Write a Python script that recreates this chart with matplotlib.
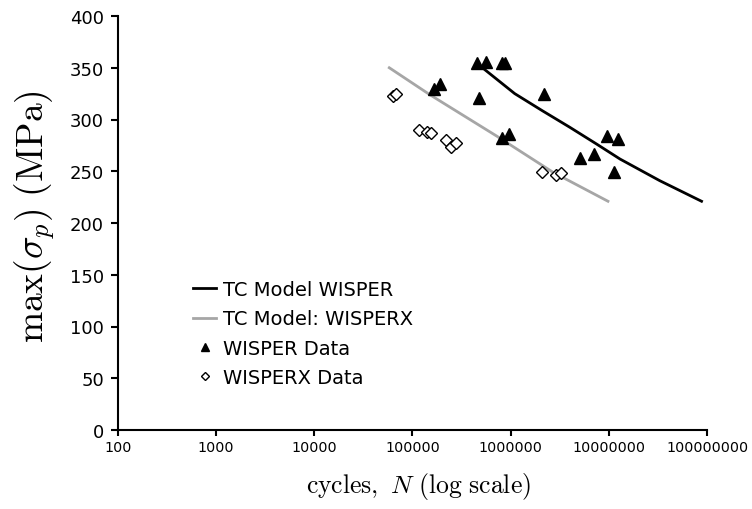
import matplotlib
matplotlib.use('Agg')
import matplotlib.pyplot as plt
from matplotlib.ticker import FixedLocator, FuncFormatter

plt.rcParams['mathtext.fontset'] = 'cm'
plt.rcParams['font.family'] = 'DejaVu Sans'

# model curves (cycles, peak stress MPa)
wisper_model_n = [5.0e5, 1.1e6, 2.1e6, 4.0e6, 7.5e6, 1.3e7, 3.3e7, 8.8e7]
wisper_model_s = [351, 325, 308.5, 292.5, 276.3, 261.8, 240.9, 221]
wisperx_model_n = [5.8e4, 1.5e5, 7.2e5, 2.7e6, 9.8e6]
wisperx_model_s = [350, 324, 284, 249, 221]

# test data
wisper_n = [4.56e5, 5.59e5, 8.1e5, 8.7e5, 1.65e5, 1.9e5, 4.8e5, 2.19e6,
            8.07e5, 9.66e5, 9.6e6, 1.23e7, 5.07e6, 7.03e6, 1.14e7]
wisper_s = [354.6, 356, 355, 355, 329.5, 334, 321, 324.6,
            282, 286, 284, 281, 262.8, 266.7, 249]
wisperx_n = [6.37e4, 6.73e4, 1.17e5, 1.42e5, 1.56e5, 2.17e5, 2.44e5, 2.75e5,
             2.09e6, 2.88e6, 3.24e6]
wisperx_s = [323, 324.6, 290, 287.6, 287, 280.5, 273, 277,
             249.6, 246.7, 248]

x_ticks = [1e2, 1e3, 1e4, 1e5, 1e6, 1e7, 1e8]
y_ticks = [0, 50, 100, 150, 200, 250, 300, 350, 400]

fig = plt.figure(figsize=(7.52, 5.10), dpi=100)
ax = fig.add_axes([118 / 752, 1 - 431 / 510, (707 - 118) / 752, (431 - 17) / 510])

ax.plot(wisper_model_n, wisper_model_s, color='black', lw=2, label='TC Model WISPER')
ax.plot(wisperx_model_n, wisperx_model_s, color='#a6a6a6', lw=2, label='TC Model: WISPERX')
ax.plot(wisper_n, wisper_s, linestyle='', marker='^', color='black', markersize=9,
        label='WISPER Data')
ax.plot(wisperx_n, wisperx_s, linestyle='', marker='D', markerfacecolor='white',
        markeredgecolor='black', markeredgewidth=1, markersize=6.5, label='WISPERX Data')

ax.set_xscale('log')
ax.set_xlim(1e2, 1e8)
ax.set_ylim(0, 400)
ax.xaxis.set_major_locator(FixedLocator(x_ticks))
ax.xaxis.set_minor_locator(FixedLocator([]))
ax.xaxis.set_major_formatter(FuncFormatter(lambda v, p: '%d' % round(v)))
ax.set_yticks(y_ticks)

for s in ['top', 'right']:
    ax.spines[s].set_visible(False)
for s in ['left', 'bottom']:
    ax.spines[s].set_linewidth(1.5)
ax.tick_params(axis='x', direction='out', length=4, width=1.5, labelsize=10.3, pad=3)
ax.tick_params(axis='y', direction='out', length=5, width=1.5, labelsize=13, pad=5)

fig.text(35 / 752, 1 - 217 / 510, r'$\mathrm{max}(\sigma_p)\ \mathrm{(MPa)}$',
         rotation=90, ha='center', va='center', fontsize=27)
fig.text(418 / 752, 1 - 487 / 510, r'$\mathrm{cycles,}\ N\ \mathrm{(log\ scale)}$',
         ha='center', va='center', fontsize=18.5)

ax.legend(loc='upper left', bbox_to_anchor=(193 / 752, 1 - 281 / 510),
          bbox_transform=fig.transFigure, frameon=False, fontsize=14,
          handlelength=1.2, handletextpad=0.36, labelspacing=0.53, markerscale=0.6,
          borderaxespad=0, borderpad=0)

fig.savefig('out.png', dpi=100)
